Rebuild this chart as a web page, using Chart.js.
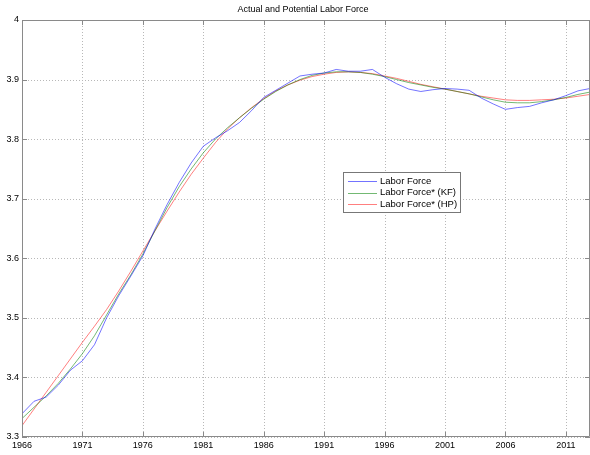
<!DOCTYPE html>
<html>
<head>
<meta charset="utf-8">
<script src="https://cdn.jsdelivr.net/npm/chart.js@4/dist/chart.umd.min.js"></script>
<style>
    html, body { margin: 0; padding: 0; background: #fff; }
    #wrap { width: 590px; height: 455px; }
</style>
</head>
<body>
<div id="wrap"><canvas id="chart"></canvas></div>
<script>
const years = [];
for (let y = 1966; y <= 2013; y++) years.push(y);

const xTicks = [1966, 1971, 1976, 1981, 1986, 1991, 1996, 2001, 2006, 2011];

const laborForce = [
    3.339, 3.360, 3.367, 3.387, 3.412, 3.428, 3.455, 3.500, 3.537, 3.570,
    3.604, 3.649, 3.690, 3.727, 3.760, 3.788, 3.802, 3.814, 3.828, 3.848,
    3.870, 3.882, 3.894, 3.906, 3.909, 3.911, 3.917, 3.914, 3.914, 3.917,
    3.904, 3.893, 3.884, 3.880, 3.883, 3.885, 3.884, 3.882, 3.869, 3.859,
    3.850, 3.853, 3.855, 3.861, 3.866, 3.873, 3.881, 3.885
];

const laborForceKF = [
    3.331, 3.350, 3.369, 3.390, 3.414, 3.440, 3.470, 3.505, 3.540, 3.572,
    3.607, 3.646, 3.685, 3.720, 3.750, 3.777, 3.800, 3.819, 3.836, 3.852,
    3.867, 3.880, 3.891, 3.900, 3.907, 3.911, 3.913, 3.913, 3.912, 3.909,
    3.905, 3.900, 3.895, 3.891, 3.887, 3.884, 3.880, 3.876, 3.871, 3.866,
    3.862, 3.861, 3.861, 3.863, 3.866, 3.870, 3.875, 3.879
];

const laborForceHP = [
    3.319, 3.347, 3.375, 3.403, 3.431, 3.459, 3.486, 3.514, 3.545, 3.578,
    3.612, 3.646, 3.679, 3.711, 3.741, 3.768, 3.794, 3.817, 3.836, 3.853,
    3.868, 3.881, 3.891, 3.899, 3.905, 3.909, 3.912, 3.913, 3.912, 3.910,
    3.906, 3.902, 3.897, 3.892, 3.888, 3.884, 3.880, 3.876, 3.872, 3.869,
    3.866, 3.865, 3.865, 3.866, 3.867, 3.869, 3.872, 3.875
];

const seriesNames = ['Labor Force', 'Labor Force* (KF)', 'Labor Force* (HP)'];
const seriesColors = ['rgba(0,0,255,0.55)', 'rgba(0,128,0,0.55)', 'rgba(255,0,0,0.5)'];

const FONT = '"Liberation Sans", Arial, sans-serif';
const AXIS_GREY = '#8a8a8a';

function toPoints(values) {
    return values.map((v, i) => ({ x: years[i], y: v }));
}

// dotted grid under the lines
const dottedGrid = {
    id: 'dottedGrid',
    beforeDatasetsDraw(chart) {
        const ctx = chart.ctx;
        const area = chart.chartArea;
        const xs = chart.scales.x;
        const ys = chart.scales.y;

        ctx.save();
        ctx.strokeStyle = '#b8b8b8';
        ctx.lineWidth = 1;
        ctx.setLineDash([1, 2]);
        ctx.beginPath();
        xTicks.forEach(v => {
            const px = Math.round(xs.getPixelForValue(v)) + 0.5;
            ctx.moveTo(px, area.top);
            ctx.lineTo(px, area.bottom);
        });
        ys.ticks.forEach(t => {
            const py = Math.round(ys.getPixelForValue(t.value)) + 0.5;
            ctx.moveTo(area.left, py);
            ctx.lineTo(area.right, py);
        });
        ctx.stroke();
        ctx.restore();
    }
};

// title, box with inward ticks, and the legend like matlab draws it
const matlabFrame = {
    id: 'matlabFrame',
    afterDraw(chart) {
        const ctx = chart.ctx;
        const area = chart.chartArea;
        const xs = chart.scales.x;
        const ys = chart.scales.y;

        ctx.save();
        ctx.fillStyle = '#000';
        ctx.font = '9px ' + FONT;
        ctx.textAlign = 'center';
        ctx.textBaseline = 'middle';
        ctx.fillText('Actual and Potential Labor Force', 303, 10);

        ctx.strokeStyle = AXIS_GREY;
        ctx.lineWidth = 1;
        ctx.beginPath();
        ctx.rect(area.left + 0.5, area.top + 0.5, area.right - area.left - 1, area.bottom - area.top - 1);
        ctx.stroke();

        const tl = 5;
        ctx.beginPath();
        xTicks.forEach(v => {
            const px = Math.round(xs.getPixelForValue(v)) + 0.5;
            ctx.moveTo(px, area.bottom);
            ctx.lineTo(px, area.bottom - tl);
            ctx.moveTo(px, area.top);
            ctx.lineTo(px, area.top + tl);
        });
        ys.ticks.forEach(t => {
            const py = Math.round(ys.getPixelForValue(t.value)) + 0.5;
            ctx.moveTo(area.left, py);
            ctx.lineTo(area.left + tl, py);
            ctx.moveTo(area.right, py);
            ctx.lineTo(area.right - tl, py);
        });
        ctx.stroke();

        // legend box
        const lx = 343, ly = 172, lw = 117, lh = 40;
        ctx.fillStyle = '#fff';
        ctx.fillRect(lx, ly, lw, lh);
        ctx.strokeStyle = '#777';
        ctx.strokeRect(lx + 0.5, ly + 0.5, lw, lh);
        ctx.font = '9.5px ' + FONT;
        ctx.textAlign = 'left';
        seriesNames.forEach((name, i) => {
            const yy = ly + 9 + i * 11.5;
            ctx.strokeStyle = seriesColors[i];
            ctx.beginPath();
            ctx.moveTo(348, Math.round(yy) + 0.5);
            ctx.lineTo(377, Math.round(yy) + 0.5);
            ctx.stroke();
            ctx.fillStyle = '#000';
            ctx.fillText(name, 380, yy);
        });
        ctx.restore();
    }
};

function buildChart() {
    const ctx = document.getElementById('chart').getContext('2d');
    new Chart(ctx, {
        type: 'line',
        data: {
            datasets: [laborForce, laborForceKF, laborForceHP].map((vals, i) => ({
                label: seriesNames[i],
                data: toPoints(vals),
                borderColor: seriesColors[i],
                borderWidth: 1,
                pointRadius: 0,
                tension: 0,
                fill: false
            }))
        },
        options: {
            responsive: true,
            maintainAspectRatio: false,
            animation: false,
            layout: { padding: { top: 20, right: 0, bottom: 0, left: 0 } },
            plugins: {
                legend: { display: false },
                title: { display: false },
                tooltip: { enabled: false }
            },
            scales: {
                x: {
                    type: 'linear',
                    min: 1966,
                    max: 2013,
                    afterBuildTicks: scale => { scale.ticks = xTicks.map(v => ({ value: v })); },
                    afterFit: scale => { scale.height = 18; },
                    grid: { display: false, drawTicks: false },
                    border: { display: false },
                    ticks: {
                        autoSkip: false,
                        maxRotation: 0,
                        padding: 3,
                        color: '#000',
                        font: { family: FONT, size: 9 },
                        callback: v => String(v)
                    }
                },
                y: {
                    min: 3.3,
                    max: 4,
                    afterFit: scale => { scale.width = 22; },
                    grid: { display: false, drawTicks: false },
                    border: { display: false },
                    ticks: {
                        stepSize: 0.1,
                        padding: 3,
                        color: '#000',
                        font: { family: FONT, size: 9 },
                        callback: v => String(+v.toFixed(1))
                    }
                }
            }
        },
        plugins: [dottedGrid, matlabFrame]
    });
}

document.addEventListener('DOMContentLoaded', buildChart);
</script>
</body>
</html>
